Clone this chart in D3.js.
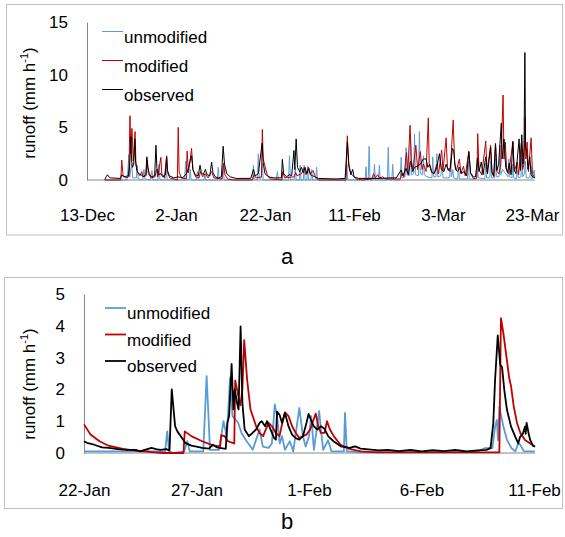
<!DOCTYPE html>
<html>
<head>
<meta charset="utf-8">
<script src="https://cdn.jsdelivr.net/npm/d3@7"></script>
<style>
body{margin:0;background:#fff;}
svg{font-family:"Liberation Sans",Arial,sans-serif;}
</style>
</head>
<body>
<svg id="chart" width="565" height="537"></svg>
<script>
// series are [days since start date, runoff mm/h]

// ---- panel a : 13-Dec .. 23-Mar
var aStart = "2012-12-13";
var aTickDates = ["2012-12-13","2013-01-02","2013-01-22","2013-02-11","2013-03-03","2013-03-23"];
var aYTicks = [0,5,10,15];

var aUnmodified = [[4.0,0],[9.0,0],[9.2,1.0],[9.4,2.4],[9.6,0.3],[10.0,1.5],[10.3,0.2],[11.1,0.2],[11.3,1.4],[11.5,0.1],[12.5,0],[12.8,1.0],[13.0,0.1],[14.2,0],[14.6,0.9],[14.8,0],[15.9,0],[16.2,1.5],[16.4,0],[17.5,0],[17.8,1.5],[18.0,0],[21.9,0],[22.2,1.8],[22.4,0],[23.0,0.1],[23.2,1.0],[23.4,0],[24.6,0],[24.8,0.8],[25.0,0],[26.3,0],[26.5,0.6],[26.7,0],[29.3,0],[29.5,1.2],[29.7,0],[30.4,0.1],[30.6,1.3],[30.8,0],[37.2,0],[37.4,1.4],[37.6,0.1],[38.3,0],[38.5,2.5],[38.7,0.1],[39.2,0.2],[39.4,1.6],[39.6,0],[42.5,0],[42.8,0.8],[43.0,0],[45.3,0],[45.5,2.3],[45.7,0],[46.6,0.1],[46.8,1.2],[47.0,0],[47.7,0],[47.9,1.4],[48.1,0],[48.6,0],[48.8,1.4],[49.0,0],[49.4,0],[49.6,1.3],[49.8,0],[50.3,0],[50.5,1.0],[50.7,0],[51.4,0],[51.6,1.2],[51.8,0],[58.2,0],[58.4,1.5],[58.6,0],[62.5,0],[62.7,1.26],[62.9,0],[63.2,0],[63.4,3.2],[63.6,0],[64.4,0],[64.6,1.5],[64.8,0],[65.5,0],[65.7,1.4],[65.9,0],[67.5,0],[67.7,3.1],[67.9,0],[68.5,0],[68.7,1.5],[68.9,0],[70.4,0],[70.6,2.15],[70.8,0.2],[71.5,0.3],[71.7,3.07],[71.9,0.5],[72.5,0.4],[72.7,4.3],[72.9,0.5],[73.4,0.6],[73.6,4.37],[73.8,0.5],[74.5,0.4],[74.7,4.6],[74.9,0.6],[75.4,0.5],[75.6,2.3],[75.8,0.5],[76.4,0.3],[77.5,0.2],[77.7,2.2],[77.9,0.3],[78.4,0.3],[78.6,2.5],[78.8,0.3],[79.5,0.4],[79.8,1.5],[80.0,0.2],[81.5,0.2],[81.7,2.0],[81.9,0.3],[82.2,1.0],[82.4,0.2],[83.3,0.1],[83.5,1.3],[83.7,0.1],[85.5,0.1],[85.7,1.8],[85.9,0.1],[87.5,0.1],[87.7,2.0],[87.9,0.2],[89.4,0.1],[89.6,1.6],[89.8,0.2],[90.5,0.2],[90.7,1.8],[90.9,0.2],[91.6,0.2],[91.8,2.0],[92.0,0.3],[92.6,0.3],[92.8,3.3],[93.0,0.5],[93.4,1.0],[94.6,0.3],[94.8,2.0],[95.0,0.3],[95.5,0.2],[95.7,1.5],[95.9,0.2],[96.5,0.1],[96.7,0.9],[97.0,0.2],[97.5,0.3],[97.7,2.4],[97.9,0.3],[98.3,0.6],[98.5,1.8],[98.7,0.2],[99.5,0.2],[99.8,1.3],[100.0,0.1],[100.5,0.95],[100.6,0.2]];

var aModified = [[4.0,0],[7.6,0],[7.8,1.9],[8.1,0.5],[8.6,0.2],[9.4,0.3],[9.66,6.1],[9.85,2.5],[10.1,4.9],[10.4,1.8],[10.8,4.6],[11.0,1.5],[11.4,0.7],[11.9,0.4],[12.3,0.8],[12.6,0.3],[13.3,0.4],[13.5,1.9],[13.8,0.6],[14.4,0.2],[15.3,0.3],[15.6,1.0],[15.9,0.3],[16.6,2.15],[16.8,0.6],[17.4,0.2],[17.9,2.3],[18.1,0.7],[18.6,0.2],[20.3,0],[20.5,5.0],[20.7,0.8],[21.2,0.2],[22.3,0.1],[22.5,2.75],[22.8,0.7],[23.5,3.0],[23.8,1.0],[24.4,0.3],[25.2,0.2],[25.5,0.8],[26.0,0.3],[26.6,0.6],[27.2,0.2],[28.0,0.8],[28.5,0.2],[30.3,0.1],[30.7,1.6],[31.0,0.5],[31.6,0.1],[33,0],[37.2,0],[37.5,0.5],[38.0,0.2],[39.2,0.3],[39.4,4.8],[39.6,2.0],[40.0,1.3],[40.5,0.5],[41.2,0.1],[43.8,0],[44.0,0.8],[44.4,0.2],[46.5,0.3],[46.9,0.7],[47.2,0.4],[48.2,0.6],[48.8,1.2],[49.2,0.5],[49.8,1.2],[50.2,0.6],[50.8,0.9],[51.3,0.3],[52,0],[58.2,0],[58.5,4.2],[58.8,1.5],[59.3,0.6],[59.8,0.4],[60.5,0.1],[62,0],[64,0.1],[64.4,0.6],[64.8,0.2],[65.3,0.5],[65.8,0.2],[66.5,0.3],[67,0.1],[70.4,0.1],[70.7,0.6],[71.2,0.3],[71.8,2.6],[72.1,0.8],[72.6,5.2],[72.9,1.8],[73.3,1.0],[73.9,3.3],[74.3,1.0],[74.9,2.7],[75.3,1.0],[75.6,1.5],[76.2,0.8],[76.7,5.9],[76.9,1.5],[77.4,0.8],[78.0,0.6],[78.6,1.5],[79.0,0.6],[79.7,2.85],[80.0,0.9],[80.7,4.0],[81.0,1.2],[81.6,0.8],[82.3,5.7],[82.6,1.6],[83.0,0.9],[83.7,2.0],[84.0,0.6],[84.6,1.3],[85.0,0.4],[85.8,2.7],[86.2,0.6],[86.9,0.1],[87.6,0.2],[87.8,4.4],[88.1,1.0],[88.7,0.5],[89.6,3.7],[89.9,0.8],[90.7,3.3],[91.0,0.7],[91.4,0.3],[91.8,3.5],[92.1,0.8],[92.6,0.6],[93.0,1.5],[93.5,8.07],[93.7,2.0],[94.0,3.6],[94.3,1.0],[94.8,0.6],[95.7,3.7],[96.0,0.8],[96.7,1.7],[97.0,0.5],[97.6,3.5],[97.9,1.0],[98.2,1.5],[98.45,5.9],[98.6,2.0],[98.9,3.6],[99.2,0.8],[99.8,4.0],[100.1,0.6],[100.6,0.2]];

var aObserved = [[4.0,0.05],[4.3,0.3],[4.6,0.5],[4.9,0.3],[5.3,0.2],[7.5,0.15],[7.8,0.5],[8.2,0.3],[9.3,0.4],[9.6,1.5],[9.85,4.1],[10.0,2.0],[10.2,1.2],[10.5,1.5],[10.75,3.9],[10.9,1.8],[11.2,0.9],[11.6,0.6],[12.2,0.5],[12.6,0.3],[13.2,0.5],[13.45,2.2],[13.7,1.2],[14.0,0.6],[14.4,0.3],[15.2,0.4],[15.5,3.3],[15.7,1.2],[16.0,0.5],[16.6,0.6],[17.0,0.3],[17.6,0.5],[17.9,2.2],[18.1,0.9],[18.5,0.4],[19.5,0.2],[20.5,0.3],[21.5,0.2],[22.5,0.7],[23.5,2.3],[23.8,1.0],[24.3,0.5],[25.0,0.4],[25.4,1.4],[25.7,0.7],[26.1,0.5],[26.6,1.0],[27.0,0.5],[27.6,0.4],[28.0,1.7],[28.3,0.7],[28.8,0.3],[29.5,0.2],[30.2,0.3],[30.6,3.2],[30.9,1.5],[31.4,0.6],[32.2,0.3],[33.5,0.15],[36.8,0.15],[37.4,1.0],[37.8,0.4],[38.5,0.6],[39.35,3.5],[39.6,1.6],[40.0,0.6],[40.8,0.3],[42.0,0.2],[43.7,0.2],[43.9,1.96],[44.2,0.6],[44.8,0.3],[45.5,0.5],[46.0,0.4],[46.5,2.8],[46.7,1.0],[47.0,3.9],[47.3,1.2],[47.8,0.8],[48.2,1.2],[48.6,0.7],[49.0,1.2],[49.4,0.6],[49.8,1.1],[50.2,0.5],[50.7,0.4],[51.2,0.3],[52.0,0.15],[56,0.1],[58.0,0.15],[58.5,3.6],[58.9,1.2],[59.3,0.5],[59.7,1.0],[60.0,0.3],[61,0.15],[66,0.15],[68,0.2],[69.5,0.2],[70.6,0.95],[71.0,0.4],[71.7,1.1],[72.2,0.5],[72.7,1.8],[73.2,0.8],[73.6,1.2],[74.2,1.3],[74.9,1.5],[75.6,2.0],[76.2,2.0],[76.6,1.2],[77.0,1.5],[77.5,0.7],[78.0,0.6],[78.6,1.2],[79.2,2.5],[79.6,1.0],[80.2,0.8],[80.7,1.5],[81.2,0.9],[81.7,1.2],[82.1,3.0],[82.4,2.8],[82.8,1.0],[83.3,0.8],[83.7,1.2],[84.2,0.6],[84.6,0.8],[85.3,0.4],[85.8,2.7],[86.2,0.7],[86.8,0.3],[87.3,0.3],[87.8,2.1],[88.1,0.8],[88.6,1.7],[89.0,0.5],[89.6,2.2],[90.0,0.6],[90.7,3.1],[91.0,0.8],[91.4,0.4],[91.8,3.4],[92.1,0.9],[92.5,1.5],[93.1,5.4],[93.3,2.0],[93.7,3.9],[94.1,1.2],[94.5,0.7],[94.9,1.6],[95.3,0.5],[95.7,3.6],[96.0,1.0],[96.4,0.6],[97.1,3.9],[97.4,0.9],[97.7,4.3],[98.0,1.5],[98.2,3.0],[98.4,12.1],[98.55,3.0],[98.8,2.8],[99.1,1.0],[99.5,2.2],[99.8,0.5],[100.2,0.3],[100.6,0.2]];

// ---- panel b : 22-Jan .. 11-Feb
var bStart = "2013-01-22";
var bTickDates = ["2013-01-22","2013-01-27","2013-02-01","2013-02-06","2013-02-11"];
var bYTicks = [0,1,2,3,4,5];

var bUnmodified = [[0,0.05],[2.6,0.05],[2.78,0.1],[2.9,0.05],[3.6,0.05],[3.7,0.68],[3.78,0.05],[4.0,0],[4.45,0.05],[4.59,0.37],[4.7,0.05],[5.3,0.05],[5.45,2.42],[5.6,0.1],[6.0,0.1],[6.12,0.63],[6.2,1.0],[6.35,0.5],[6.49,2.37],[6.6,1.16],[6.85,0.95],[7.0,0.63],[7.2,0.4],[7.5,0.1],[7.8,0.74],[7.95,0.2],[8.2,0.16],[8.35,0.3],[8.48,1.53],[8.58,1.16],[8.7,0.3],[8.8,0.53],[8.93,0.1],[9.15,0.37],[9.3,0.05],[9.57,1.42],[9.73,0.53],[9.85,0.2],[10.0,0.53],[10.1,1.16],[10.22,0.1],[10.45,1.32],[10.53,0.74],[10.63,0.1],[10.85,0.4],[11.0,0.05],[11.55,0.05],[11.6,1.26],[11.68,0.05],[12.3,0.02],[17.5,0.05],[17.8,0.15],[18.15,0.15],[18.27,0.83],[18.35,1.04],[18.4,0.4],[18.46,1.46],[18.64,0.83],[18.8,0.41],[19.0,0.15],[19.17,0.05],[19.3,0.3],[19.4,0.25],[19.55,0.05],[20.04,0.05]];

var bModified = [[0,0.9],[0.29,0.58],[0.69,0.37],[1.09,0.23],[1.73,0.13],[2.37,0.07],[3.0,0.03],[3.5,0],[4.42,0],[4.48,0.68],[4.77,0.53],[5.25,0.37],[5.73,0.24],[6.05,0.21],[6.1,0.56],[6.25,0.53],[6.4,0.37],[6.6,0.32],[6.68,0.3],[6.72,2.28],[6.8,2.0],[6.88,1.7],[6.95,1.5],[7.04,2.0],[7.12,3.55],[7.25,2.3],[7.4,1.37],[7.65,0.84],[7.8,0.63],[7.96,0.53],[8.2,0.95],[8.36,0.84],[8.52,0.63],[8.69,0.53],[8.77,0.8],[8.93,1.28],[9.09,1.16],[9.25,0.84],[9.41,0.63],[9.57,0.47],[9.73,0.53],[9.89,0.58],[10.05,0.74],[10.3,1.24],[10.41,0.84],[10.53,0.63],[10.69,0.63],[10.8,1.0],[10.93,0.74],[11.1,0.53],[11.4,0.26],[11.8,0.13],[12.3,0.05],[13.0,0.02],[18.46,0.02],[18.53,4.24],[18.64,3.76],[18.8,2.9],[18.9,2.35],[18.98,2.1],[19.1,1.46],[19.25,0.93],[19.4,0.62],[19.6,0.41],[19.9,0.27],[20.04,0.2]];

var bObserved = [[0,0.37],[0.13,0.32],[0.45,0.26],[0.8,0.18],[1.1,0.16],[1.5,0.12],[1.9,0.1],[2.3,0.1],[2.5,0.05],[2.7,0.1],[3.0,0.16],[3.2,0.12],[3.4,0.1],[3.65,0.12],[3.8,0.08],[3.9,2.0],[3.98,1.37],[4.05,0.84],[4.15,0.68],[4.3,0.53],[4.5,0.32],[4.77,0.23],[5.0,0.2],[5.25,0.16],[5.55,0.14],[5.73,0.26],[5.9,0.18],[6.3,0.13],[6.37,0.95],[6.45,1.16],[6.56,2.8],[6.64,1.37],[6.7,2.0],[6.8,1.58],[6.87,1.37],[6.96,3.98],[7.04,1.58],[7.14,0.74],[7.33,0.53],[7.49,0.63],[7.65,0.74],[7.81,0.95],[7.9,1.0],[8.05,0.84],[8.13,1.0],[8.29,0.74],[8.45,0.47],[8.53,0.42],[8.58,1.3],[8.69,1.2],[8.8,0.95],[8.93,1.26],[9.09,0.84],[9.25,0.58],[9.41,0.47],[9.57,0.42],[9.73,0.53],[9.89,0.95],[9.98,1.23],[10.08,1.05],[10.21,0.84],[10.37,0.74],[10.53,0.84],[10.69,0.76],[10.85,0.53],[11.09,0.37],[11.41,0.21],[11.81,0.16],[12.05,0.21],[12.29,0.14],[13.1,0.08],[13.5,0.1],[14.0,0.06],[14.5,0.1],[15.0,0.05],[15.5,0.09],[16.0,0.06],[16.5,0.1],[17.0,0.05],[17.5,0.08],[17.9,0.1],[18.07,0.16],[18.19,0.93],[18.27,2.3],[18.39,3.7],[18.5,2.77],[18.58,2.7],[18.68,1.98],[18.8,1.35],[18.98,0.83],[19.17,0.51],[19.3,0.3],[19.38,0.51],[19.5,0.6],[19.6,0.83],[19.63,0.6],[19.67,0.95],[19.76,0.62],[19.83,0.41],[19.95,0.23],[20.04,0.2]];

var seriesNames = ["unmodified","modified","observed"];
var seriesColors = ["#5b9bd5","#c00000","#000000"];

var svg = d3.select("#chart");
var parseDay = d3.utcParse("%Y-%m-%d");
var fmt = d3.utcFormat("%-d-%b");

function drawPanel(p){
	var g = svg.append("g");
	var start = parseDay(p.start);
	var ticks = p.ticks.map(parseDay);
	var toDate = function(d){ return new Date(start.getTime() + d*864e5); };

	g.append("rect")
		.attr("x", p.box[0]).attr("y", p.box[1])
		.attr("width", p.box[2]).attr("height", p.box[3])
		.attr("fill", "none").attr("stroke", "#bfbfbf").attr("stroke-width", 1);

	var x = d3.scaleUtc().domain([ticks[0], ticks[ticks.length-1]]).range([p.left, p.right]);
	var y = d3.scaleLinear().domain([0, p.yMax]).range([p.bottom, p.top]);

	// y axis
	var ya = g.append("g").attr("transform", "translate(" + p.left + ",0)")
		.call(d3.axisLeft(y).tickValues(p.yTicks).tickFormat(d3.format("d")).tickSize(0).tickPadding(19));
	ya.select(".domain").attr("stroke", "#868686");
	ya.selectAll("text").attr("font-size", 17).attr("font-family", "Liberation Sans, Arial").attr("fill", "#000");

	// x axis, labels sit low like in the spreadsheet chart
	var xa = g.append("g").attr("transform", "translate(0," + p.bottom + ")")
		.call(d3.axisBottom(x).tickValues(ticks).tickFormat(fmt).tickSize(0).tickPadding(p.xPad));
	xa.select(".domain").remove();
	xa.selectAll("text").attr("font-size", 17).attr("font-family", "Liberation Sans, Arial").attr("fill", "#000");

	var lastDay = d3.max(p.series, function(s){ return s[s.length-1][0]; });
	g.append("line")
		.attr("x1", p.left).attr("x2", x(toDate(lastDay)))
		.attr("y1", y(0)).attr("y2", y(0))
		.attr("stroke", "#868686").attr("stroke-width", 1);

	var line = d3.line()
		.x(function(d){ return x(toDate(d[0])); })
		.y(function(d){ return y(d[1]); });

	p.series.forEach(function(s, i){
		g.append("path").datum(s)
			.attr("d", line)
			.attr("fill", "none")
			.attr("stroke", seriesColors[i])
			.attr("stroke-width", p.lw)
			.attr("stroke-linejoin", "round");
	});

	// legend
	seriesNames.forEach(function(n, i){
		var ly = p.legY + i*p.legStep;
		g.append("line")
			.attr("x1", p.legX).attr("x2", p.legX + 21)
			.attr("y1", ly).attr("y2", ly)
			.attr("stroke", seriesColors[i]).attr("stroke-width", p.lw);
		g.append("text")
			.attr("x", p.legX + 22).attr("y", ly + 11)
			.attr("font-size", 17)
			.text(n);
	});

	// y title
	var t = g.append("text")
		.attr("transform", "translate(" + p.titleX + "," + p.titleY + ") rotate(-90)")
		.attr("text-anchor", "middle")
		.attr("font-size", 17);
	t.append("tspan").text("runoff (mm h");
	t.append("tspan").attr("font-size", 11).attr("dy", -7).text("-1");
	t.append("tspan").attr("dy", 7).text(")");

	svg.append("text")
		.attr("x", 287).attr("y", p.capY)
		.attr("text-anchor", "middle")
		.attr("font-size", 22)
		.text(p.caption);
}

drawPanel({
	start: aStart, ticks: aTickDates, yTicks: aYTicks, yMax: 15,
	series: [aUnmodified, aModified, aObserved],
	box: [6.5, 4.5, 556, 230.5],
	left: 87, right: 532, top: 22, bottom: 180, xPad: 29,
	lw: 1, legX: 102, legY: 31.5, legStep: 29,
	titleX: 35, titleY: 103, caption: "a", capY: 264
});

drawPanel({
	start: bStart, ticks: bTickDates, yTicks: bYTicks, yMax: 5,
	series: [bUnmodified, bModified, bObserved],
	box: [4.5, 277.5, 558, 231],
	left: 84, right: 534, top: 294, bottom: 453, xPad: 31,
	lw: 1.8, legX: 105, legY: 308, legStep: 26.5,
	titleX: 35, titleY: 384, caption: "b", capY: 529
});
</script>
</body>
</html>
